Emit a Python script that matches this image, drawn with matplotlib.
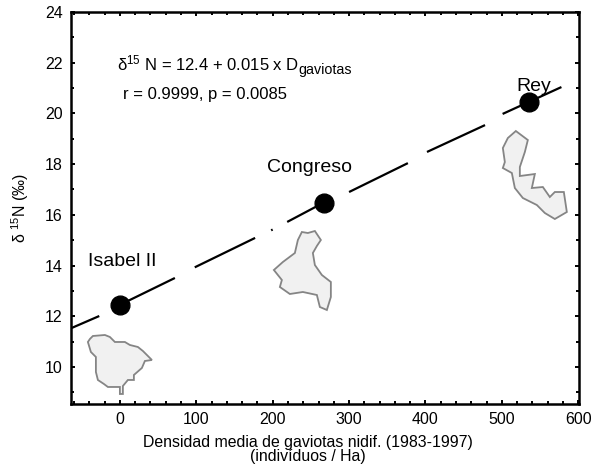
import numpy as np
import matplotlib
matplotlib.use('Agg')
from matplotlib import pyplot as plt

plt.rcParams['font.family'] = 'Liberation Sans'

# ajuste: tramos visibles de la recta (densidad, d15N)
tramos_x = [(-63, -27), (0, 72), (98, 177), (198, 200), (219, 266), (300, 377), (402, 478), (501, 578)]
tramos_y = [(11.54, 12.01), (12.45, 13.51), (13.93, 15.09), (15.39, 15.42), (15.72, 16.47), (16.90, 18.04), (18.48, 19.54), (19.98, 21.04)]

densidad = [0, 267, 536]
d15n = [12.45, 16.48, 20.45]
islas = ['Isabel II', 'Congreso', 'Rey']
isla_x = [-42, 192, 519]
isla_y = [14.0, 17.7, 20.9]

xticks = [0, 100, 200, 300, 400, 500, 600]
yticks = [10, 12, 14, 16, 18, 20, 22, 24]

# contornos de las islas, en pixeles de la imagen
isabel_px = [(88, 342), (90, 339), (93, 336), (105, 335), (110, 337), (115, 342), (125, 342), (130, 345), (138, 347),
             (143, 351), (147, 355), (152, 360), (145, 361), (142, 368), (134, 375), (134, 380), (128, 380), (123, 386),
             (123, 394), (120, 394), (120, 387), (108, 387), (104, 384), (98, 380), (96, 372), (96, 357), (91, 352)]
congreso_px = [(302, 232), (308, 233), (315, 231), (321, 240), (317, 246), (313, 253), (315, 265), (322, 275), (331, 282),
               (331, 297), (327, 310), (320, 307), (317, 295), (303, 292), (290, 294), (280, 287), (282, 280),
               (274, 270), (283, 262), (295, 253), (298, 240)]
rey_px = [(516, 131), (528, 140), (525, 152), (520, 167), (520, 176), (535, 174), (532, 188), (543, 187),
          (550, 197), (555, 192), (564, 192), (567, 212), (555, 219), (545, 213), (537, 205), (523, 198),
          (515, 188), (512, 173), (503, 168), (505, 162), (503, 148), (508, 138)]


def px_a_datos(puntos):
    xs = [(p[0] - 120.0) / 0.764 for p in puntos]
    ys = [10 + (367.0 - p[1]) / 25.36 for p in puntos]
    return xs, ys


fig = plt.figure(figsize=(5.94, 4.70), dpi=100)
ax = fig.add_axes([71 / 594, 1 - 404 / 470, (579 - 71) / 594, (404 - 12) / 470])

for contorno in [isabel_px, congreso_px, rey_px]:
    xs, ys = px_a_datos(contorno)
    ax.fill(xs, ys, facecolor='#f1f1f1', edgecolor='#858585', linewidth=1.3, zorder=1)

for tx, ty in zip(tramos_x, tramos_y):
    ax.plot(tx, ty, color='black', linewidth=1.6, zorder=2, solid_capstyle='butt')

ax.plot(densidad, d15n, 'o', color='black', markersize=13.5, linestyle='none', zorder=3)

for nombre, x, y in zip(islas, isla_x, isla_y):
    ax.text(x, y, nombre, fontsize=14, ha='left', va='baseline')

ax.set_xlim(-64, 601)
ax.set_ylim(8.54, 24)
ax.set_xticks(xticks)
ax.set_yticks(yticks)
ax.set_xticks(np.arange(-60, 601, 20), minor=True)
ax.set_yticks(np.arange(9, 24, 1), minor=True)
ax.tick_params(which='major', direction='in', length=3, width=1.4, labelsize=11.5, pad=6, top=True, right=True)
ax.tick_params(which='minor', direction='in', length=2.5, width=1.4, top=True, right=True)
for s in ax.spines.values():
    s.set_linewidth(1.8)

fig.text(308 / 594, 1 - 443 / 470, 'Densidad media de gaviotas nidif. (1983-1997)', fontsize=11.4, ha='center', va='center')
fig.text(308 / 594, 1 - 457 / 470, '(indivíduos / Ha)', fontsize=11.4, ha='center', va='center')
fig.text(20 / 594, 1 - 208 / 470, r'$\mathregular{\delta}$ $^{\mathregular{15}}$N (‰)', fontsize=11.5, rotation=90, ha='center', va='center')

ax.text(-4, 21.7, r'$\mathregular{\delta^{15}}$ N = 12.4 + 0.015 x D', fontsize=12, va='baseline')
ax.text(233, 21.55, 'gaviotas', fontsize=10.3, va='baseline')
ax.text(4, 20.55, 'r = 0.9999, p = 0.0085', fontsize=12, va='baseline')

fig.savefig('out.png', dpi=100)
